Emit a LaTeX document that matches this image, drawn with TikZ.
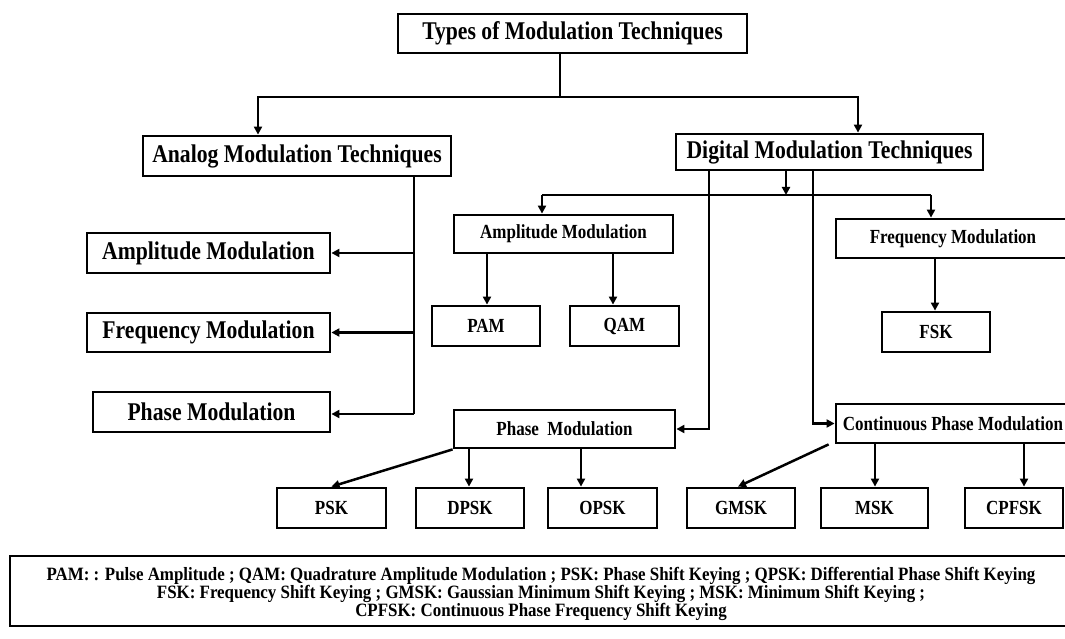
\documentclass[tikz,border=0pt]{standalone}
\usepackage{fontspec}
\setmainfont{Liberation Serif}[FakeStretch=0.85]
\newfontfamily\legfont{Liberation Serif}[FakeStretch=0.9]
\usetikzlibrary{arrows.meta}
\begin{document}
\begin{tikzpicture}[x=1pt,y=-1pt,
  box/.style={draw=black, line width=2.8pt, fill=white, inner sep=0pt},
  big/.style={box, font=\bfseries\fontsize{25.5}{28}\selectfont},
  mid/.style={box, font=\bfseries\fontsize{20}{22}\selectfont},
  conn/.style={line width=2.5pt},
  arr/.style={conn, -{Triangle[length=8pt,width=8pt]}},
]
\useasboundingbox (0,0) rectangle (1065,639);
\clip (0,0) rectangle (1065,639);
\fill[white] (0,0) rectangle (1065,639);

% level 0/1
\node[big, minimum width=349pt, minimum height=39pt] (title) at (572.5,33.5) {Types of Modulation Techniques};
\node[big, minimum width=308pt, minimum height=40pt] (analog) at (297,156) {Analog Modulation Techniques};
\node[big, minimum width=307pt, minimum height=36pt] (digital) at (829.5,152) {Digital Modulation Techniques};

% analog children
\node[big, minimum width=243pt, minimum height=40pt] (lam) at (208.5,253) {Amplitude Modulation};
\node[big, minimum width=243pt, minimum height=39pt] (lfm) at (208.5,332.5) {Frequency Modulation};
\node[big, minimum width=237pt, minimum height=40pt] (lpm) at (211.5,412) {Phase Modulation};

% digital children
\node[mid, minimum width=219pt, minimum height=38pt] (dam) at (563.5,234) {Amplitude Modulation};
\node[mid, minimum width=234pt, minimum height=39pt] (dfm) at (953,238.5) {Frequency Modulation};
\node[mid, minimum width=221pt, minimum height=38pt] (dpm) at (564.5,429) {Phase\ \ Modulation};
\node[mid, minimum width=234pt, minimum height=39pt] (cpm) at (953,423.5) {Continuous Phase Modulation};

\node[mid, minimum width=108pt, minimum height=40pt] (pam) at (486,326) {PAM};
\node[mid, minimum width=109pt, minimum height=40pt] (qam) at (624.5,326) {QAM};
\node[mid, minimum width=108pt, minimum height=40pt] (fsk) at (936,332) {FSK};

\node[mid, minimum width=109pt, minimum height=40pt] (psk) at (331.5,508) {PSK};
\node[mid, minimum width=108pt, minimum height=40pt] (dpsk) at (470,508) {DPSK};
\node[mid, minimum width=109pt, minimum height=40pt] (opsk) at (602.5,508) {OPSK};
\node[mid, minimum width=108pt, minimum height=40pt] (gmsk) at (741,508) {GMSK};
\node[mid, minimum width=107pt, minimum height=40pt] (msk) at (874.5,508) {MSK};
\node[mid, minimum width=98pt, minimum height=40pt] (cpfsk) at (1014,508) {CPFSK};

% legend
\node[draw=black, line width=2.5pt, inner sep=0pt, minimum width=1065pt, minimum height=70pt] (legend) at (542.5,591) {};
\node[inner sep=0pt, align=center, font=\legfont\bfseries\fontsize{18.8}{17}\selectfont] (legendtext) at (541,594)
  {PAM: : Pulse Amplitude ; QAM: Quadrature Amplitude Modulation ; PSK: Phase Shift Keying ; QPSK: Differential Phase Shift Keying\\
   FSK: Frequency Shift Keying ; GMSK: Gaussian Minimum Shift Keying ; MSK: Minimum Shift Keying ;\\
   CPFSK: Continuous Phase Frequency Shift Keying};

% connectors: title
\coordinate (tsplit) at (560,97);
\draw[conn] (title.south -| tsplit) -- (tsplit);
\draw[arr] (tsplit) -| (analog.north -| 258,0);
\draw[arr] (tsplit) -| (digital.north -| 858,0);

% analog
\coordinate (abus) at (414,414);
\draw[conn] (analog.south -| abus) -- (abus);
\draw[arr] (lam.east -| abus) -- (lam.east);
\draw[arr] (lfm.east -| abus) -- (lfm.east);
\draw[arr] (abus) -- (lpm.east |- abus);

% digital
\coordinate (dsplit) at (786,195);
\draw[arr] (digital.south -| dsplit) -- (dsplit);
\draw[conn] (542,195) -- (931,195);
\draw[arr] (542,195) -- (dam.north -| 542,0);
\draw[arr] (931,195) -- (dfm.north -| 931,0);
\coordinate (dleft) at (709,429);
\draw[arr] (digital.south -| dleft) -- (dleft) -- (dpm.east);
\coordinate (dright) at (813,423.5);
\draw[arr] (digital.south -| dright) -- (dright) -- (cpm.west);

% amplitude / frequency
\draw[arr] (dam.south -| 487,0) -- (pam.north -| 487,0);
\draw[arr] (dam.south -| 613,0) -- (qam.north -| 613,0);
\draw[arr] (dfm.south -| 935,0) -- (fsk.north -| 935,0);

% phase
\draw[arr] (dpm.south west) -- (psk.north);
\draw[arr] (dpm.south -| 469,0) -- (dpsk.north -| 469,0);
\draw[arr] (dpm.south -| 581,0) -- (opsk.north -| 581,0);

% continuous phase
\draw[arr] ([xshift=-6pt]cpm.south west) -- ([xshift=-3pt]gmsk.north);
\draw[arr] (cpm.south -| 875,0) -- (msk.north -| 875,0);
\draw[arr] (cpm.south -| 1024,0) -- (cpfsk.north -| 1024,0);
\end{tikzpicture}
\end{document}
